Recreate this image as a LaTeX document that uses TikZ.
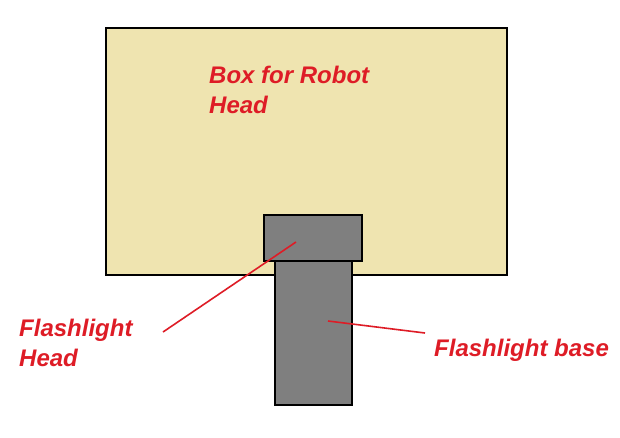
\documentclass[tikz,border=0pt]{standalone}
\usepackage{fontspec}
\setmainfont{Liberation Sans}
\usetikzlibrary{positioning}

\definecolor{boxtan}{RGB}{239,228,176}
\definecolor{lampgray}{RGB}{127,127,127}
\definecolor{tagred}{RGB}{222,28,38}

\begin{document}
\begin{tikzpicture}[
  x=1pt, y=-1pt,
  part/.style={draw=black, line width=2pt, anchor=north west, inner sep=0pt, outer sep=0pt},
  tag/.style={font=\fontsize{24}{30}\selectfont\bfseries\itshape, text=tagred, align=left, anchor=north west, inner sep=0pt},
  pointer/.style={draw=tagred, line width=1.6pt}
]
\useasboundingbox[fill=white] (0,0) rectangle (620,437);

% robot head box
\node [part, fill=boxtan, minimum width=401pt, minimum height=247pt] (box) at (106,28) {};
\node [tag] (boxtag) at (209,66) {Box for Robot\\Head};

% flashlight
\node [part, fill=lampgray, minimum width=77pt, minimum height=145pt] (fbase) at (275,260) {};
\node [part, fill=lampgray, minimum width=98pt, minimum height=46pt] (fhead) at (264,215) {};

% labels
\node [tag] (headtag) at (19,319) {Flashlight\\Head};
\node [tag] (basetag) at (434,339) {Flashlight base};

\coordinate (headend) at (163,332);
\coordinate (headtip) at (296,242);
\coordinate (baseend) at (425,333);
\coordinate (basetip) at (328,321);

\draw [pointer] (headend) -- (headtip);
\draw [pointer] (baseend) -- (basetip);
\end{tikzpicture}
\end{document}
